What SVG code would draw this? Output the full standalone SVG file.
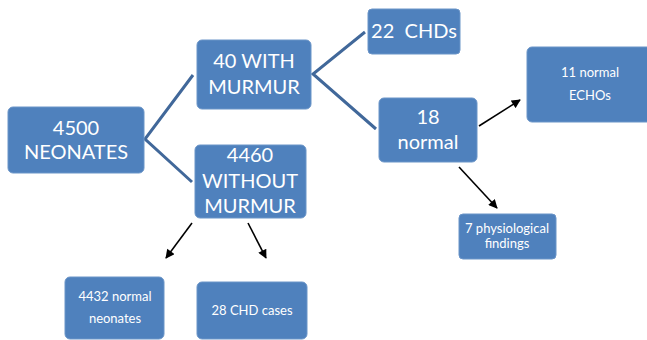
<svg xmlns="http://www.w3.org/2000/svg" width="647" height="340" viewBox="0 0 647 340">
<style>
.box{fill:#4f81bd;stroke:#6b95c8;stroke-width:1}
.t{font-family:Lato,"Open Sans",sans-serif;fill:#ffffff;text-anchor:middle}
.big{font-size:20px}
.sm{font-size:13px}
.bl{stroke:#41689a;stroke-width:3;fill:none}
.ar{stroke:#000;stroke-width:1.6;fill:none;marker-end:url(#ah)}
</style>
<defs>
<marker id="ah" viewBox="0 0 10 10" refX="9" refY="5" markerWidth="10" markerHeight="9" orient="auto" markerUnits="userSpaceOnUse">
<path d="M0,0 L10,5 L0,10 z" fill="#000"/>
</marker>
</defs>
<rect width="647" height="340" fill="#ffffff"/>
<g id="connectors">
<polyline class="bl" points="193,75 145,139 192,182"/>
<polyline class="bl" points="365,32 313,74 376,129"/>
<line class="ar" x1="479" y1="126" x2="520" y2="100"/>
<line class="ar" x1="459" y1="167" x2="497" y2="208"/>
<line class="ar" x1="192" y1="223" x2="166" y2="258"/>
<line class="ar" x1="248" y1="223" x2="266" y2="258"/>
</g>
<g id="n4500">
<rect class="box" x="8" y="107" width="136" height="66" rx="5"/>
<text class="t big" x="76" y="135">4500</text>
<text class="t big" x="76" y="159">NEONATES</text>
</g>
<g id="n40">
<rect class="box" x="197" y="40" width="114" height="69" rx="5"/>
<text class="t big" x="254" y="68">40 WITH</text>
<text class="t big" x="254" y="94">MURMUR</text>
</g>
<g id="n4460">
<rect class="box" x="195" y="145" width="111" height="73" rx="5"/>
<text class="t big" x="250" y="162">4460</text>
<text class="t big" x="250" y="188">WITHOUT</text>
<text class="t big" x="250" y="213">MURMUR</text>
</g>
<g id="n22">
<rect class="box" x="368" y="9" width="92" height="45" rx="4"/>
<text class="t big" x="414" y="38" xml:space="preserve">22  CHDs</text>
</g>
<g id="n18">
<rect class="box" x="379" y="98" width="98" height="64" rx="5"/>
<text class="t big" x="428" y="124">18</text>
<text class="t big" x="428" y="149">normal</text>
</g>
<g id="n11">
<rect class="box" x="527" y="47" width="125" height="75" rx="5"/>
<text class="t sm" x="590" y="77">11 normal</text>
<text class="t sm" x="590" y="100">ECHOs</text>
</g>
<g id="n7">
<rect class="box" x="459" y="214" width="97" height="45" rx="4"/>
<text class="t sm" x="507" y="233">7 physiological</text>
<text class="t sm" x="507" y="248">findings</text>
</g>
<g id="n4432">
<rect class="box" x="65" y="277" width="99" height="62" rx="5"/>
<text class="t sm" x="115" y="301">4432 normal</text>
<text class="t sm" x="115" y="323">neonates</text>
</g>
<g id="n28">
<rect class="box" x="197" y="282" width="110" height="57" rx="5"/>
<text class="t sm" x="252" y="315">28 CHD cases</text>
</g>
</svg>
